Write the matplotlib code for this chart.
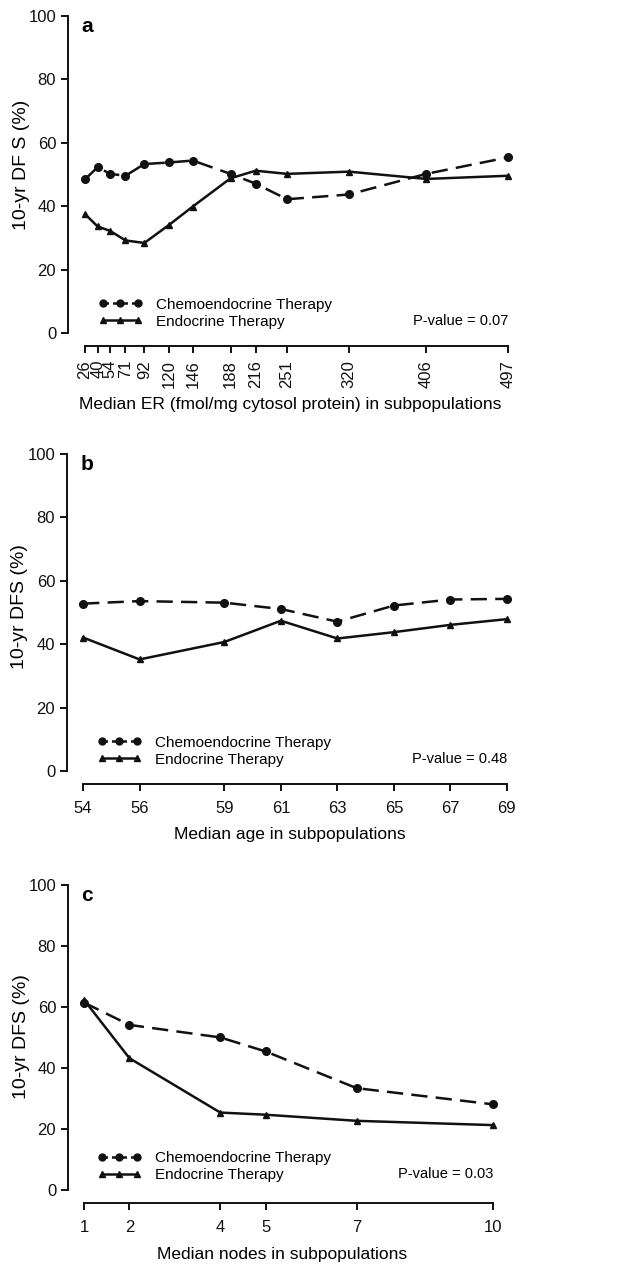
import numpy as np
import matplotlib.pyplot as plt
from matplotlib.lines import Line2D

plt.rcParams['font.family'] = ['Liberation Sans', 'DejaVu Sans']

# panel a: median ER
er_x = [26, 40, 54, 71, 92, 120, 146, 188, 216, 251, 320, 406, 497]
er_chemo = [48.5, 52.3, 50.2, 49.6, 53.3, 53.8, 54.4, 50.2, 47.1, 42.2, 43.7, 50.2, 55.4]
er_endo = [37.5, 33.6, 32.2, 29.2, 28.4, 34.2, 39.9, 48.8, 51.2, 50.2, 50.9, 48.6, 49.6]

# panel b: median age
age_x = [54, 56, 59, 61, 63, 65, 67, 69]
age_chemo = [52.8, 53.6, 53.1, 51.1, 47.1, 52.2, 54.1, 54.3]
age_endo = [42.1, 35.2, 40.7, 47.4, 41.8, 43.8, 46.1, 47.9]

# panel c: median nodes
nodes_x = [1, 2, 4, 5, 7, 10]
nodes_chemo = [61.5, 54.2, 50.1, 45.5, 33.5, 28.2]
nodes_endo = [62.4, 43.3, 25.5, 24.8, 22.8, 21.4]

panels = [
    ('a', er_x, er_chemo, er_endo, 'Median ER (fmol/mg cytosol protein) in subpopulations',
     '10-yr DF S (%)', 'P-value = 0.07', 3.8),
    ('b', age_x, age_chemo, age_endo, 'Median age in subpopulations',
     '10-yr DFS (%)', 'P-value = 0.48', 3.7),
    ('c', nodes_x, nodes_chemo, nodes_endo, 'Median nodes in subpopulations',
     '10-yr DFS (%)', 'P-value = 0.03', 5.5),
]
# layout per panel: axes box in px (left, top, right, bottom), xlim, tick rotation,
# tick pad, xlabel pad, legend anchor, ylabel coords
layout = [
    ((68, 16, 512, 346), (7.0, 501.5), 90, 5, 7, (0.0676, 0.052), (-0.086, 0.548)),
    ((67, 454, 512, 784), (53.43, 69.18), 0, 7, 8, (0.0676, 0.052), (-0.088, 0.539)),
    ((68, 885, 497, 1203), (0.648, 10.09), 0, 7, 9, (0.0676, 0.066), (-0.089, 0.522)),
]

W, H = 635, 1265
fig = plt.figure(figsize=(W / 100, H / 100), dpi=100)
ink = '#111111'

for (lab, x, chemo, endo, xlabel, ylabel, pval, py), ((l, t, r, b), xlim, rot, tpad, xpad, anchor, ycoord) in zip(panels, layout):
    ax = fig.add_axes([l / W, 1 - b / H, (r - l) / W, (b - t) / H])
    ax.plot(x, chemo, color=ink, lw=1.8, ls=(0, (6.5, 3.3)), marker='o', ms=5.5)
    ax.plot(x, endo, color=ink, lw=1.8, ls='-', marker='^', ms=5)
    ax.set_xlim(*xlim)
    ax.set_ylim(-4.1, 100)
    ax.spines['top'].set_visible(False)
    ax.spines['right'].set_visible(False)
    for s in ['left', 'bottom']:
        ax.spines[s].set_linewidth(1.4)
        ax.spines[s].set_color(ink)
    ax.spines['left'].set_bounds(0, 100)
    ax.spines['bottom'].set_bounds(x[0], x[-1])
    ax.set_yticks([0, 20, 40, 60, 80, 100])
    ax.set_xticks(x)
    ax.set_xticklabels([str(v) for v in x], rotation=rot)
    ax.tick_params(axis='both', length=5, width=1.4, labelsize=12, colors=ink)
    ax.tick_params(axis='x', pad=tpad)
    ax.set_xlabel(xlabel, fontsize=12.5, labelpad=xpad)
    ax.set_ylabel(ylabel, fontsize=14)
    ax.yaxis.set_label_coords(*ycoord)
    ax.text(0.031, 0.95, lab, transform=ax.transAxes, fontsize=15, fontweight='bold',
            va='baseline', ha='left')
    handles = [Line2D([], [], color=ink, lw=1.8, ls=(0, (2.2, 1.6)), marker='o', ms=5),
               Line2D([], [], color=ink, lw=1.8, ls='-', marker='^', ms=5)]
    ax.legend(handles, ['Chemoendocrine Therapy', 'Endocrine Therapy'], loc='lower left',
              bbox_to_anchor=anchor, frameon=False, numpoints=3, fontsize=11,
              handlelength=2.9, handletextpad=0.9, labelspacing=0.2, borderpad=0,
              borderaxespad=0)
    ax.text(x[-1], py, pval, fontsize=10.5, ha='right', va='center')

fig.savefig('out.png', dpi=100)
